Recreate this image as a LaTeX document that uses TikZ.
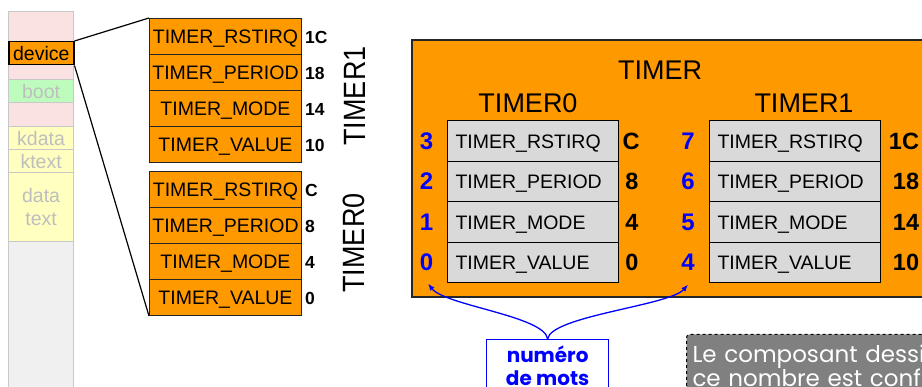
\documentclass[tikz,border=0pt]{standalone}
\usepackage{fontspec}
\usepackage{graphicx}
\setmainfont{Liberation Sans}
\newfontfamily\geofont{Poppins}
\usetikzlibrary{arrows.meta}
\definecolor{memline}{RGB}{200,200,200}
\definecolor{memtext}{RGB}{190,190,190}
\definecolor{mempink}{RGB}{250,226,226}
\definecolor{memgreen}{RGB}{190,252,190}
\definecolor{memyellow}{RGB}{255,255,192}
\definecolor{memgrey}{RGB}{240,240,240}
\definecolor{hworange}{RGB}{255,153,0}
\definecolor{regbg}{RGB}{217,217,217}
\definecolor{notegrey}{RGB}{128,128,128}
\definecolor{wordblue}{RGB}{0,0,255}
\begin{document}
\begin{tikzpicture}[x=1pt,y=-1pt,
  memseg/.style={draw=memline, line width=1.2pt, minimum width=65pt, inner sep=0pt,
    anchor=north west, text=memtext, font=\fontsize{19.5}{22.3}\selectfont},
  memlbl/.style={text height=14pt, text depth=0pt},
  reg/.style={draw=black!85, line width=1pt, fill=hworange, minimum width=152pt,
    minimum height=36pt, inner sep=0pt, anchor=north west,
    font=\fontsize{19.5}{22}\selectfont, text height=14pt, text depth=0pt},
  off/.style={font=\bfseries\fontsize{17.5}{20}\selectfont, anchor=west, inner sep=0pt,
    text height=12.5pt, text depth=0pt},
  vlab/.style={rotate=90, font=\fontsize{27}{30}\selectfont, inner sep=0pt,
    text height=22pt, text depth=0pt},
  title/.style={font=\fontsize{27}{30}\selectfont, inner sep=0pt,
    text height=19.3pt, text depth=0pt},
  greg/.style={draw=black, line width=1pt, fill=regbg, text width=155pt, align=left,
    inner xsep=8pt, inner ysep=0pt, minimum height=40.5pt, anchor=north west,
    font=\fontsize{19.5}{22}\selectfont, text height=14pt, text depth=0pt},
  bnum/.style={text=wordblue, font=\bfseries\fontsize{24}{26}\selectfont, inner sep=0pt,
    text height=17.2pt, text depth=0pt},
  roff/.style={font=\bfseries\fontsize{23.5}{26}\selectfont, inner sep=0pt,
    text height=16.8pt, text depth=0pt},
  wordarrow/.style={draw=wordblue, line width=1.3pt, -{Latex[length=7pt,width=5.5pt]}}
]
\useasboundingbox (0,0) rectangle (922,387);

% ---- memory map column ----
\node[memseg, fill=mempink, minimum height=30pt] (mtop) at (8,11) {};
\node[memseg, fill=mempink, minimum height=15pt] (mpink1) at (8,64) {};
\node[memseg, memlbl, fill=memgreen, minimum height=23pt] (mboot) at (8,79) {boot};
\node[memseg, fill=mempink, minimum height=24pt] (mpink2) at (8,102) {};
\node[memseg, memlbl, fill=memyellow, minimum height=23pt] (mkdata) at (8,126) {kdata};
\node[memseg, memlbl, fill=memyellow, minimum height=23pt] (mktext) at (8,149) {ktext};
\node[memseg, fill=memyellow, minimum height=69pt, align=center] (mdata) at (8,172) {data\\text};
\node[memseg, fill=memgrey, minimum height=160pt] (mfree) at (8,241) {};
\node[memseg, memlbl, fill=hworange, draw=black, line width=1.5pt, text=black,
  minimum height=23pt] (dev) at (8,41) {device};

% ---- register stacks, memory view ----
\node[reg] (r1a) at (149,18)  {TIMER\_RSTIRQ};
\node[reg] (r1b) at (149,54)  {TIMER\_PERIOD};
\node[reg] (r1c) at (149,90)  {TIMER\_MODE};
\node[reg] (r1d) at (149,126) {TIMER\_VALUE};

\node[reg] (r0a) at (149,171) {TIMER\_RSTIRQ};
\node[reg] (r0b) at (149,207) {TIMER\_PERIOD};
\node[reg] (r0c) at (149,243) {TIMER\_MODE};
\node[reg] (r0d) at (149,279) {TIMER\_VALUE};

\node[off] (o1a) at (305,37)  {1C};
\node[off] (o1b) at (305,73)  {18};
\node[off] (o1c) at (305,109) {14};
\node[off] (o1d) at (305,145) {10};
\node[off] (o0a) at (305,190) {C};
\node[off] (o0b) at (305,226) {8};
\node[off] (o0c) at (305,262) {4};
\node[off] (o0d) at (305,298) {0};

\node[vlab] (lt1) at (354,96)  {\scalebox{1}[1.14]{TIMER1}};
\node[vlab] (lt0) at (353,243) {\scalebox{1}[1.14]{TIMER0}};

\draw[line width=1.2pt] (dev.north east) -- (r1a.north west);
\draw[line width=1.2pt] (dev.south east) -- (r0d.south west);

% ---- TIMER component ----
\node[draw=black!85, line width=2pt, fill=hworange, minimum width=540pt,
  minimum height=257pt, anchor=north west, inner sep=0pt] (timer) at (411,39) {};
\node[title] (ttl) at (660,70) {TIMER};
\node[title] (ttl0) at (528,103) {TIMER0};
\node[title] (ttl1) at (804,103) {TIMER1};

\node[greg] (g0a) at (447,120.5) {TIMER\_RSTIRQ};
\node[greg] (g0b) at (447,161)   {TIMER\_PERIOD};
\node[greg] (g0c) at (447,201.5) {TIMER\_MODE};
\node[greg] (g0d) at (447,242)   {TIMER\_VALUE};
\node[greg] (g1a) at (709,120.5) {TIMER\_RSTIRQ};
\node[greg] (g1b) at (709,161)   {TIMER\_PERIOD};
\node[greg] (g1c) at (709,201.5) {TIMER\_MODE};
\node[greg] (g1d) at (709,242)   {TIMER\_VALUE};

\node[bnum] (n3) at (426.5,140.75) {3};
\node[bnum] (n2) at (426.5,181.25) {2};
\node[bnum] (n1) at (426.5,221.75) {1};
\node[bnum] (n0) at (426.5,262.25) {0};
\node[bnum] (n7) at (688,140.75) {7};
\node[bnum] (n6) at (688,181.25) {6};
\node[bnum] (n5) at (688,221.75) {5};
\node[bnum] (n4) at (688,262.25) {4};

\node[roff] (q0a) at (631,140.75) {C};
\node[roff] (q0b) at (632,181.25) {8};
\node[roff] (q0c) at (632,221.75) {4};
\node[roff] (q0d) at (632,262.25) {0};
\node[roff] (q1a) at (904,140.75) {1C};
\node[roff] (q1b) at (906,181.25) {18};
\node[roff] (q1c) at (906,221.75) {14};
\node[roff] (q1d) at (906,262.25) {10};

% ---- word-number callout ----
\node[draw=wordblue, line width=1.3pt, fill=white, text=wordblue, minimum width=122pt,
  anchor=north west, inner xsep=4pt, inner ysep=6pt, align=center,
  font=\geofont\bfseries\fontsize{20}{23.5}\selectfont] (words) at (486,339)
  {numéro\\de mots};
\draw[wordarrow] (words.north) .. controls +(-3,-23) and +(17,22) ..
  ([shift={(1.5pt,-12.5pt)}]n0.south);
\draw[wordarrow] (words.north) .. controls +(3,-23) and +(-18,21) ..
  ([shift={(0pt,-13.5pt)}]n4.south);

% ---- note ----
\node[draw=black, dashed, line width=1pt, rounded corners=3pt, fill=notegrey, text=white,
  anchor=north west, align=left, text width=400pt, inner xsep=6pt, inner ysep=10pt,
  font=\geofont\fontsize{23}{24.5}\selectfont] (note) at (686,334)
  {Le composant dessi\\ce nombre est conf};
\end{tikzpicture}
\end{document}
